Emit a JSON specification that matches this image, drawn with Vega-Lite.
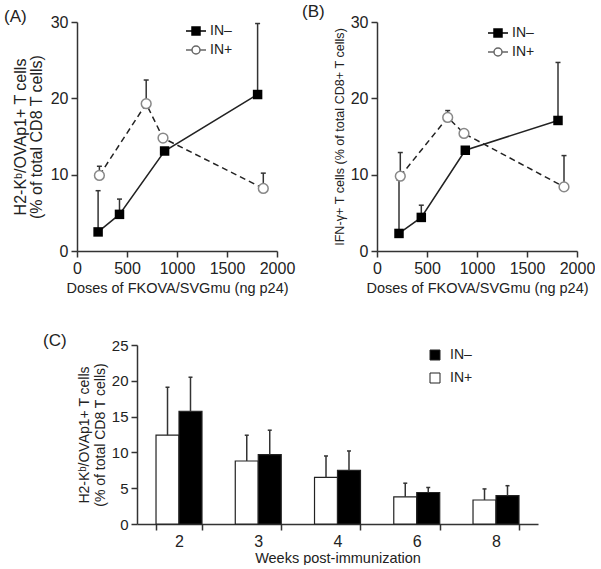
{
  "$schema": "https://vega.github.io/schema/vega-lite/v6.json",
  "padding": {"left": 4, "top": 3, "right": 0, "bottom": 0},
  "spacing": 37,
  "resolve": {"scale": {"fill": "independent", "shape": "independent", "stroke": "independent"}, "legend": {"fill": "independent", "shape": "independent", "stroke": "independent"}},
  "config": {
    "view": {"stroke": null},
    "font": "Liberation Sans",
    "axis": {"grid": false, "domainColor": "#333", "tickColor": "#333", "domainWidth": 1.5, "tickWidth": 1.5, "tickSize": 6, "labelFontSize": 16, "labelColor": "#222", "titleColor": "#222", "titleFontWeight": "normal", "titleFontSize": 16, "labelPadding": 3, "labelFlush": false, "labelOverlap": false},
    "legend": {"labelFontSize": 14, "labelColor": "#222"},
    "title": {"fontSize": 17, "fontWeight": "normal", "color": "#222", "anchor": "start", "frame": "group", "offset": 0}
  },
  "datasets": {
    "a": [
      {"group": "IN–", "dose": 211, "value": 2.5, "err": 7.9},
      {"group": "IN–", "dose": 425, "value": 4.8, "err": 6.8},
      {"group": "IN–", "dose": 876, "value": 13.1},
      {"group": "IN–", "dose": 1806, "value": 20.5, "err": 29.8},
      {"group": "IN+", "dose": 224, "value": 9.9, "err": 11.1},
      {"group": "IN+", "dose": 692, "value": 19.3, "err": 22.4},
      {"group": "IN+", "dose": 860, "value": 14.8},
      {"group": "IN+", "dose": 1863, "value": 8.2, "err": 10.2}
    ],
    "b": [
      {"group": "IN–", "dose": 220, "value": 2.3, "err": 9.3},
      {"group": "IN–", "dose": 443, "value": 4.4, "err": 6.0},
      {"group": "IN–", "dose": 883, "value": 13.2},
      {"group": "IN–", "dose": 1810, "value": 17.1, "err": 24.7},
      {"group": "IN+", "dose": 233, "value": 9.8, "err": 12.9},
      {"group": "IN+", "dose": 707, "value": 17.5, "err": 18.4},
      {"group": "IN+", "dose": 870, "value": 15.4},
      {"group": "IN+", "dose": 1870, "value": 8.4, "err": 12.5}
    ],
    "c": [
      {"week": "2", "group": "IN+", "value": 12.4, "err": 19.1},
      {"week": "2", "group": "IN–", "value": 15.75, "err": 20.5},
      {"week": "3", "group": "IN+", "value": 8.8, "err": 12.4},
      {"week": "3", "group": "IN–", "value": 9.7, "err": 13.1},
      {"week": "4", "group": "IN+", "value": 6.5, "err": 9.5},
      {"week": "4", "group": "IN–", "value": 7.5, "err": 10.2},
      {"week": "6", "group": "IN+", "value": 3.8, "err": 5.7},
      {"week": "6", "group": "IN–", "value": 4.4, "err": 5.1},
      {"week": "8", "group": "IN+", "value": 3.35, "err": 4.9},
      {"week": "8", "group": "IN–", "value": 3.95, "err": 5.35}
    ]
  },
  "vconcat": [
    {
      "bounds": "flush",
      "spacing": 100,
      "resolve": {"scale": {"fill": "independent", "shape": "independent", "stroke": "independent"}, "legend": {"fill": "independent", "shape": "independent", "stroke": "independent"}},
      "hconcat": [
        {
          "width": 200, "height": 229,
          "data": {"name": "a"},
          "title": {"text": "(A)", "dx": -73, "dy": 16},
          "encoding": {
            "x": {"field": "dose", "type": "quantitative", "scale": {"domain": [0, 2000], "nice": false}, "axis": {"values": [0, 500, 1000, 1500, 2000], "format": "d", "title": "Doses of FKOVA/SVGmu (ng p24)", "titlePadding": 5, "titleFontSize": 14.5}},
            "y": {"field": "value", "type": "quantitative", "scale": {"domain": [0, 30], "nice": false}, "axis": {"values": [0, 10, 20, 30], "title": ["H2-Kᵇ/OVAp1+ T cells", "(% of total CD8 T cells)"], "titlePadding": 6, "titleLineHeight": 16}}
          },
          "layer": [
            {"transform": [{"filter": "isValid(datum.err)"}], "mark": {"type": "rule", "color": "#333", "strokeWidth": 1.5}, "encoding": {"y2": {"field": "err"}}},
            {"transform": [{"filter": "isValid(datum.err)"}], "mark": {"type": "point", "shape": "stroke", "size": 25, "color": "#333", "strokeWidth": 1.5, "opacity": 1}, "encoding": {"y": {"field": "err", "type": "quantitative"}}},
            {"transform": [{"filter": "datum.group === 'IN–'"}], "mark": {"type": "line", "color": "#222", "strokeWidth": 1.5}},
            {"transform": [{"filter": "datum.group === 'IN+'"}], "mark": {"type": "line", "color": "#222", "strokeWidth": 1.5, "strokeDash": [6, 4]}},
            {"transform": [{"filter": "datum.group === 'IN–'"}], "mark": {"type": "square", "size": 90, "color": "black", "opacity": 1}},
            {"transform": [{"filter": "datum.group === 'IN+'"}], "mark": {"type": "point", "shape": "circle", "size": 95, "fill": "white", "stroke": "#888", "strokeWidth": 1.5, "opacity": 1}},
            {"transform": [{"filter": "datum.dose < 0"}], "mark": {"type": "point", "strokeWidth": 1.5, "opacity": 1},
             "encoding": {
               "shape": {"field": "group", "type": "nominal", "scale": {"domain": ["IN–", "IN+"], "range": ["M-1,0H1M-0.4,-0.4H0.4V0.4H-0.4Z", "M-1,0H-0.4M0.4,0H1M0.4,0A0.4,0.4,0,1,1,-0.4,0A0.4,0.4,0,1,1,0.4,0"]},
                         "legend": {"title": null, "orient": "none", "legendX": 108, "legendY": -2, "symbolSize": 400, "symbolOpacity": 1, "labelOffset": 3, "rowPadding": 1, "padding": 0, "symbolStrokeWidth": 1.5}},
               "fill": {"field": "group", "type": "nominal", "scale": {"domain": ["IN–", "IN+"], "range": ["black", "white"]}},
               "stroke": {"field": "group", "type": "nominal", "scale": {"domain": ["IN–", "IN+"], "range": ["black", "#666"]}}
             }}
          ]
        },
        {
          "width": 200, "height": 229,
          "data": {"name": "b"},
          "title": {"text": "(B)", "dx": -75, "dy": 11},
          "encoding": {
            "x": {"field": "dose", "type": "quantitative", "scale": {"domain": [0, 2000], "nice": false}, "axis": {"values": [0, 500, 1000, 1500, 2000], "format": "d", "title": "Doses of FKOVA/SVGmu (ng p24)", "titlePadding": 5, "titleFontSize": 14.5}},
            "y": {"field": "value", "type": "quantitative", "scale": {"domain": [0, 30], "nice": false}, "axis": {"values": [0, 10, 20, 30], "title": "IFN-γ+ T cells (% of total CD8+ T cells)", "titlePadding": 4, "titleFontSize": 12.6}}
          },
          "layer": [
            {"transform": [{"filter": "isValid(datum.err)"}], "mark": {"type": "rule", "color": "#333", "strokeWidth": 1.5}, "encoding": {"y2": {"field": "err"}}},
            {"transform": [{"filter": "isValid(datum.err)"}], "mark": {"type": "point", "shape": "stroke", "size": 25, "color": "#333", "strokeWidth": 1.5, "opacity": 1}, "encoding": {"y": {"field": "err", "type": "quantitative"}}},
            {"transform": [{"filter": "datum.group === 'IN–'"}], "mark": {"type": "line", "color": "#222", "strokeWidth": 1.5}},
            {"transform": [{"filter": "datum.group === 'IN+'"}], "mark": {"type": "line", "color": "#222", "strokeWidth": 1.5, "strokeDash": [6, 4]}},
            {"transform": [{"filter": "datum.group === 'IN–'"}], "mark": {"type": "square", "size": 90, "color": "black", "opacity": 1}},
            {"transform": [{"filter": "datum.group === 'IN+'"}], "mark": {"type": "point", "shape": "circle", "size": 95, "fill": "white", "stroke": "#888", "strokeWidth": 1.5, "opacity": 1}},
            {"transform": [{"filter": "datum.dose < 0"}], "mark": {"type": "point", "strokeWidth": 1.5, "opacity": 1},
             "encoding": {
               "shape": {"field": "group", "type": "nominal", "scale": {"domain": ["IN–", "IN+"], "range": ["M-1,0H1M-0.4,-0.4H0.4V0.4H-0.4Z", "M-1,0H-0.4M0.4,0H1M0.4,0A0.4,0.4,0,1,1,-0.4,0A0.4,0.4,0,1,1,0.4,0"]},
                         "legend": {"title": null, "orient": "none", "legendX": 110, "legendY": 0, "symbolSize": 400, "symbolOpacity": 1, "labelOffset": 3, "rowPadding": 1, "padding": 0, "symbolStrokeWidth": 1.5}},
               "fill": {"field": "group", "type": "nominal", "scale": {"domain": ["IN–", "IN+"], "range": ["black", "white"]}},
               "stroke": {"field": "group", "type": "nominal", "scale": {"domain": ["IN–", "IN+"], "range": ["black", "#666"]}}
             }}
          ]
        }
      ]
    },
    {
      "bounds": "flush",
      "spacing": 59,
      "resolve": {"scale": {"fill": "independent"}, "legend": {"fill": "independent"}},
      "hconcat": [
        {"width": 1, "height": 1, "data": {"values": []}, "mark": {"type": "point", "opacity": 0}},
        {
          "width": 401, "height": 179,
          "data": {"name": "c"},
          "title": {"text": "(C)", "dx": -94, "dy": 16},
          "encoding": {
            "x": {"field": "week", "type": "ordinal", "scale": {"paddingInner": 0.42, "paddingOuter": 0.24}, "axis": {"title": "Weeks post-immunization", "labelAngle": 0, "tickBand": "extent", "titlePadding": 2, "titleFontSize": 14.5}},
            "xOffset": {"field": "group", "type": "nominal", "scale": {"domain": ["IN+", "IN–"]}},
            "y": {"field": "value", "type": "quantitative", "scale": {"domain": [0, 25], "nice": false}, "axis": {"values": [0, 5, 10, 15, 20, 25], "title": ["H2-Kᵇ/OVAp1+ T cells", "(% of total CD8 T cells)"], "titlePadding": 4, "titleLineHeight": 16, "titleFontSize": 14, "labelFontSize": 15}}
          },
          "layer": [
            {"mark": {"type": "bar", "stroke": "#222", "strokeWidth": 1.2},
             "encoding": {
               "fill": {"field": "group", "type": "nominal", "scale": {"domain": ["IN–", "IN+"], "range": ["black", "white"]},
                        "legend": {"title": null, "orient": "none", "legendX": 291, "legendY": 3, "symbolType": "square", "symbolSize": 100, "symbolStrokeColor": "#222", "symbolStrokeWidth": 1, "rowPadding": 9, "padding": 0, "labelOffset": 8}}
             }},
            {"mark": {"type": "rule", "color": "#333", "strokeWidth": 1.5}, "encoding": {"y2": {"field": "err"}}},
            {"mark": {"type": "point", "shape": "stroke", "size": 16, "color": "#333", "strokeWidth": 1.5, "opacity": 1}, "encoding": {"y": {"field": "err", "type": "quantitative"}}}
          ]
        }
      ]
    }
  ]
}
